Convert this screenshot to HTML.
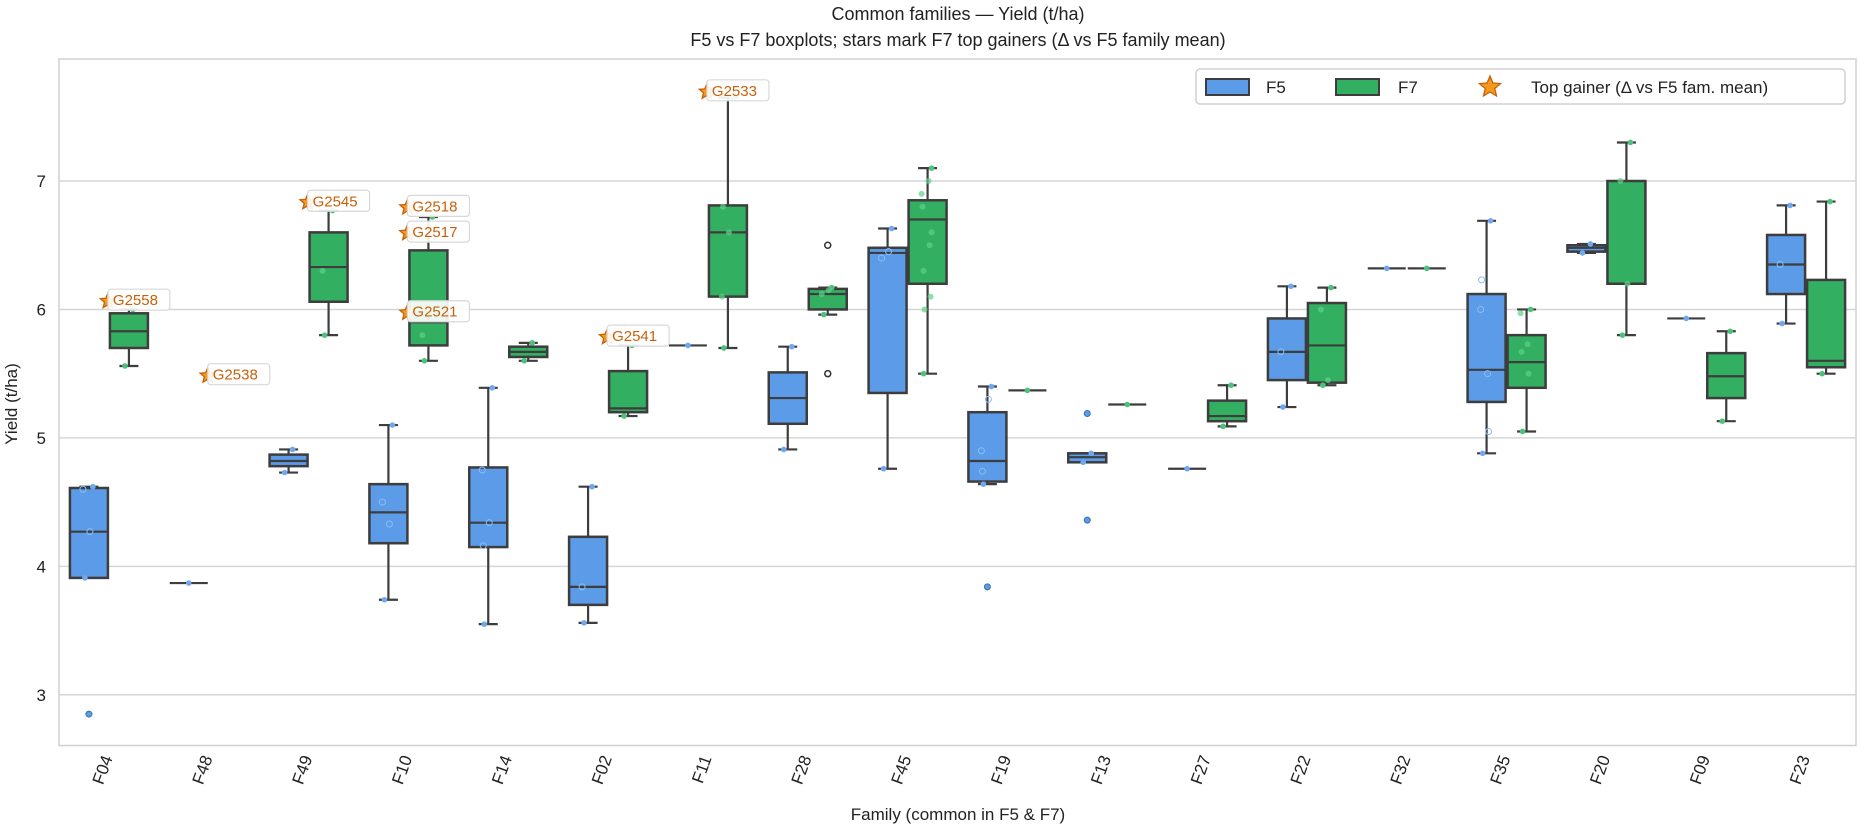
<!DOCTYPE html>
<html><head><meta charset="utf-8"><style>
html,body{margin:0;padding:0;background:#fff;}
svg{display:block;font-family:"Liberation Sans",Arial,sans-serif;}
</style></head><body>
<svg id="s" width="1860" height="828" xmlns="http://www.w3.org/2000/svg">
<text x="958" y="20" font-size="18" text-anchor="middle" fill="#222">Common families — Yield (t/ha)</text>
<text x="958" y="46" font-size="18" text-anchor="middle" fill="#222">F5 vs F7 boxplots; stars mark F7 top gainers (Δ vs F5 family mean)</text>
<text transform="translate(17,404) rotate(-90)" font-size="17" text-anchor="middle" fill="#222">Yield (t/ha)</text>
<text x="958" y="820" font-size="17" text-anchor="middle" fill="#222">Family (common in F5 &amp; F7)</text>
<g id="g"></g>
</svg>
<script>
var L=59,R=1856,T=59,B=745.5,W=(R-L)/18;
function Y(v){return 181+(7-v)*128.45;}
function cx(i){return L+W*(i+0.5);}
var h='';
[3,4,5,6,7].forEach(function(v){h+='<line x1="'+L+'" x2="'+R+'" y1="'+Y(v)+'" y2="'+Y(v)+'" stroke="#d6d6d6" stroke-width="1.5"/>';
h+='<text x="46" y="'+(Y(v)+6)+'" font-size="17" text-anchor="end" fill="#222">'+v+'</text>';});
h+='<rect x="'+L+'" y="'+T+'" width="'+(R-L)+'" height="'+(B-T)+'" fill="none" stroke="#d0d0d0" stroke-width="1.5"/>';
var fams=['F04','F48','F49','F10','F14','F02','F11','F28','F45','F19','F13','F27','F22','F32','F35','F20','F09','F23'];
var d5=[[3.91,3.91,4.27,4.61,4.62],3.87,[4.73,4.78,4.82,4.87,4.91],[3.74,4.18,4.42,4.64,5.10],[3.55,4.15,4.34,4.77,5.39],[3.56,3.70,3.84,4.23,4.62],5.72,[4.91,5.11,5.31,5.51,5.71],[4.76,5.35,6.44,6.48,6.63],[4.64,4.66,4.82,5.20,5.40],[4.81,4.81,4.85,4.88,4.88],4.76,[5.24,5.45,5.67,5.93,6.18],6.32,[4.88,5.28,5.53,6.12,6.69],[6.44,6.45,6.48,6.50,6.51],5.93,[5.89,6.12,6.35,6.58,6.81]];
var d7=[[5.56,5.70,5.83,5.97,6.00],null,[5.80,6.06,6.33,6.60,6.77],[5.60,5.72,5.90,6.46,6.72],[5.60,5.63,5.67,5.71,5.74],[5.17,5.20,5.23,5.52,5.72],[5.70,6.10,6.60,6.81,7.65],[5.96,6.00,6.12,6.16,6.17],[5.50,6.20,6.70,6.85,7.10],5.37,5.26,[5.09,5.13,5.17,5.29,5.41],[5.41,5.43,5.72,6.05,6.17],6.32,[5.05,5.39,5.59,5.80,6.00],[5.80,6.20,6.20,7.00,7.30],[5.13,5.31,5.48,5.66,5.83],[5.50,5.55,5.60,6.23,6.84]];
var out5={0:[2.85],9:[3.84],10:[5.19,4.36]}, out7={7:[6.5,5.5]};
var in5={0:[4.6,4.27],3:[4.5,4.33],4:[4.75,4.34,4.16],5:[3.84],8:[6.4,6.45],9:[4.9,5.3,4.74],14:[6.0,5.5,6.23,5.05],12:[5.67],17:[6.35]};
var in7={3:[5.8],6:[6.1,6.6,6.8],7:[6.12,6.15],8:[6.9,7.0,6.8,6.5,6.3,6.1,6.0,6.6],14:[5.97,5.73,5.67,5.5],15:[7.0,6.2],12:[6.0,5.45],2:[6.3]};
var E='#3d3d3d';
function box(x0,x1,d,col,pc){
 var m=(x0+x1)/2;
 if(d===null)return;
 if(typeof d==='number'){h+='<line x1="'+x0+'" x2="'+x1+'" y1="'+Y(d)+'" y2="'+Y(d)+'" stroke="'+E+'" stroke-width="2.2"/>';
  h+='<circle cx="'+m+'" cy="'+Y(d)+'" r="2.8" fill="'+pc+'"/>';return;}
 var cw=(x1-x0)/4;
 h+='<line x1="'+m+'" x2="'+m+'" y1="'+Y(d[4])+'" y2="'+Y(d[3])+'" stroke="'+E+'" stroke-width="2.2"/>';
 h+='<line x1="'+m+'" x2="'+m+'" y1="'+Y(d[1])+'" y2="'+Y(d[0])+'" stroke="'+E+'" stroke-width="2.2"/>';
 h+='<line x1="'+(m-cw)+'" x2="'+(m+cw)+'" y1="'+Y(d[4])+'" y2="'+Y(d[4])+'" stroke="'+E+'" stroke-width="2.2"/>';
 h+='<line x1="'+(m-cw)+'" x2="'+(m+cw)+'" y1="'+Y(d[0])+'" y2="'+Y(d[0])+'" stroke="'+E+'" stroke-width="2.2"/>';
 h+='<rect x="'+x0+'" y="'+Y(d[3])+'" width="'+(x1-x0)+'" height="'+Math.max(2,Y(d[1])-Y(d[3]))+'" fill="'+col+'" stroke="'+E+'" stroke-width="2.5"/>';
 h+='<line x1="'+x0+'" x2="'+x1+'" y1="'+Y(d[2])+'" y2="'+Y(d[2])+'" stroke="'+E+'" stroke-width="2.2"/>';
 h+='<circle cx="'+(m+4)+'" cy="'+Y(d[4])+'" r="2.8" fill="'+pc+'"/>';
 h+='<circle cx="'+(m-4)+'" cy="'+Y(d[0])+'" r="2.8" fill="'+pc+'"/>';
}
for(var i=0;i<18;i++){
 var c=cx(i);
 box(c-39,c-1,d5[i],'#5B9BE8','#6fa8f0');
 box(c+1,c+39,d7[i],'#33AF62','#4cc27a');
 (in5[i]||[]).forEach(function(v,k){h+='<circle cx="'+(c-20+((k*7)%13-6))+'" cy="'+Y(v)+'" r="3" fill="none" stroke="#8dbdf5" stroke-width="1"/>';});
 (in7[i]||[]).forEach(function(v,k){h+='<circle cx="'+(c+20+((k*7)%13-6))+'" cy="'+Y(v)+'" r="3" fill="#5fd08a" fill-opacity="0.7"/>';});
 (out5[i]||[]).forEach(function(v){h+='<circle cx="'+(c-20)+'" cy="'+Y(v)+'" r="3" fill="#5B9BE8" stroke="#3a6db0" stroke-width="1"/>';});
 (out7[i]||[]).forEach(function(v){h+='<circle cx="'+(c+20)+'" cy="'+Y(v)+'" r="3" fill="none" stroke="#333" stroke-width="1.5"/>';});
 h+='<text transform="translate('+(c+4)+',758) rotate(-70)" font-size="17" text-anchor="end" fill="#222">'+fams[i]+'</text>';
}
function star(x,y,r,fill,st){var p=[];for(var k=0;k<10;k++){var a=-Math.PI/2+k*Math.PI/5,rr=k%2?r*0.45:r;p.push((x+rr*Math.cos(a)).toFixed(1)+','+(y+rr*Math.sin(a)).toFixed(1));}
 return '<polygon points="'+p.join(' ')+'" fill="'+fill+'" stroke="'+st+'" stroke-width="1.3"/>';}
var ann=[[0,6.08,'G2558'],[1,5.50,'G2538'],[2,6.85,'G2545'],[3,6.81,'G2518'],[3,6.61,'G2517'],[3,5.99,'G2521'],[5,5.80,'G2541'],[6,7.71,'G2533']];
ann.forEach(function(a){var c=cx(a[0]),y=Y(a[1]);
 h+=star(c-1,y+2,8,'#F39A1E','#c8600a');
 h+='<rect x="'+(c-1)+'" y="'+(y-10)+'" width="62" height="21" rx="3" fill="#fff" fill-opacity="0.9" stroke="#d8d8d8" stroke-width="1.2"/>';
 h+='<text x="'+(c+4)+'" y="'+(y+6)+'" font-size="15" fill="#c8600a">'+a[2]+'</text>';});
h+='<rect x="1196" y="69" width="649" height="35" rx="4" fill="#fff" stroke="#d0d0d0" stroke-width="1.5"/>';
h+='<rect x="1206" y="79" width="43" height="16" fill="#5B9BE8" stroke="'+E+'" stroke-width="2"/>';
h+='<text x="1266" y="93" font-size="17" fill="#222">F5</text>';
h+='<rect x="1336" y="79" width="43" height="16" fill="#33AF62" stroke="'+E+'" stroke-width="2"/>';
h+='<text x="1398" y="93" font-size="17" fill="#222">F7</text>';
h+=star(1490,87,11,'#F39A1E','#c8600a');
h+='<text x="1531" y="93" font-size="17" fill="#222">Top gainer (Δ vs F5 fam. mean)</text>';
document.getElementById('g').innerHTML=h;
</script>
</body></html>
